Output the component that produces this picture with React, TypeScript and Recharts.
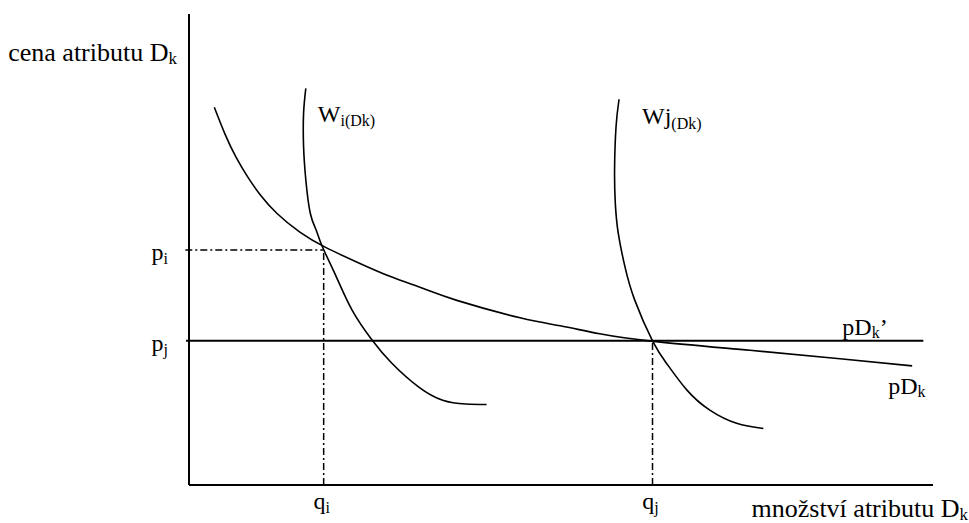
import React from 'react';
import {
  LineChart,
  Line,
  XAxis,
  YAxis,
  ReferenceLine,
  ReferenceDot,
} from 'recharts';

// equilibrium quantities / prices
const qi = 18.1;
const qj = 62.3;
const pi = 49.9;
const pj = 30.6;

const qTicks = [qi, qj];
const qSubs = ['i', 'j'];
const pTicks = [pj, pi];
const pSubs = ['j', 'i'];

// pD_k (hedonic price function)
const pdkX = [3.4, 4.84, 6.32, 7.93, 9.54, 11.8, 14.9, 18.3, 22.6, 27.0, 31.5, 36.0, 44.5, 49.9, 55.2, 62.4, 75.4, 87.5, 97.2];
const pdkY = [80.2, 74.5, 69.6, 65.3, 61.7, 57.7, 53.7, 50.5, 47.3, 44.3, 41.7, 39.2, 35.5, 33.8, 32.1, 30.5, 28.6, 26.8, 25.3];

// W_i(Dk) bid curve
const wiX = [15.7, 15.4, 15.4, 15.7, 16.3, 17.1, 17.9, 19.8, 21.9, 24.6, 27.3, 30.8, 34.1, 37.2, 40.0];
const wiY = [84.2, 78.9, 71.8, 64.8, 57.7, 54.1, 50.7, 44.2, 37.2, 30.8, 25.8, 20.9, 18.0, 17.2, 17.1];

// Wj(Dk) bid curve
const wjX = [57.8, 57.4, 57.2, 57.3, 57.7, 58.6, 59.9, 62.3, 64.2, 66.9, 70.0, 73.6, 77.2];
const wjY = [81.9, 76.1, 66.9, 59.8, 53.4, 46.3, 39.3, 30.6, 25.8, 20.2, 15.9, 13.1, 12.0];

// pD_k' flat line ends
const flatX = [-0.4, 98.7];

const zip = (xs: number[], ys: number[]) => xs.map((x, i) => ({ x, y: ys[i] }));

const pdkData = zip(pdkX, pdkY);
const wiData = zip(wiX, wiY);
const wjData = zip(wjX, wjY);

const FONT = 'Liberation Serif, Times New Roman, serif';
const FS = 24;
const TITLE_FS = 26;
const SUB = 16;
const DASH = '7 3 2 3';

const T = (props: any) => (
  <text fontFamily={FONT} fontSize={FS} fill="#000" {...props} />
);

const XTick = (props: any) => {
  const { x, payload } = props;
  const sub = qSubs[qTicks.indexOf(payload.value)];
  return (
    <T x={x - 2} y={509} textAnchor="middle">
      <tspan>q</tspan>
      <tspan fontSize={SUB} dy={4}>{sub}</tspan>
    </T>
  );
};

const YTick = (props: any) => {
  const { y, payload } = props;
  const sub = pSubs[pTicks.indexOf(payload.value)];
  return (
    <T x={168} y={y + 10} textAnchor="end">
      <tspan>p</tspan>
      <tspan fontSize={SUB} dy={4}>{sub}</tspan>
    </T>
  );
};

const label = (render: (cx: number, cy: number) => React.ReactElement) => (p: any) =>
  render(p.cx, p.cy);

export default function App() {
  return (
    <div style={{ position: 'absolute', left: 0, top: 0, width: 969, height: 523, background: '#fff' }}>
      <LineChart width={969} height={523} margin={{ top: 14, right: 36, bottom: 8, left: 129 }}>
        <XAxis
          type="number"
          dataKey="x"
          domain={[0, 100]}
          ticks={qTicks}
          tick={<XTick />}
          tickLine={false}
          axisLine={{ stroke: '#000', strokeWidth: 2 }}
          height={30}
          allowDataOverflow
        />
        <YAxis
          type="number"
          dataKey="y"
          domain={[0, 100]}
          ticks={pTicks}
          tick={<YTick />}
          tickLine={false}
          axisLine={{ stroke: '#000', strokeWidth: 2 }}
          width={60}
          allowDataOverflow
        />

        {/* dash-dot guides */}
        <ReferenceLine segment={[{ x: -0.5, y: pi }, { x: qi, y: pi }]} stroke="#000" strokeWidth={1.5} strokeDasharray={DASH} ifOverflow="visible" />
        <ReferenceLine segment={[{ x: qi, y: 0 }, { x: qi, y: pi }]} stroke="#000" strokeWidth={1.5} strokeDasharray={DASH} ifOverflow="visible" />
        <ReferenceLine segment={[{ x: qj, y: 0 }, { x: qj, y: pj }]} stroke="#000" strokeWidth={1.5} strokeDasharray={DASH} ifOverflow="visible" />

        {/* pD_k' */}
        <ReferenceLine segment={[{ x: flatX[0], y: pj }, { x: flatX[1], y: pj }]} stroke="#000" strokeWidth={2} ifOverflow="visible" />

        <Line data={pdkData} dataKey="y" type="natural" stroke="#000" strokeWidth={1.6} dot={false} activeDot={false} isAnimationActive={false} />
        <Line data={wiData} dataKey="y" type="natural" stroke="#000" strokeWidth={1.6} dot={false} activeDot={false} isAnimationActive={false} />
        <Line data={wjData} dataKey="y" type="natural" stroke="#000" strokeWidth={1.6} dot={false} activeDot={false} isAnimationActive={false} />

        {/* text labels, anchored to chart points */}
        <ReferenceDot
          x={0}
          y={100}
          r={0}
          ifOverflow="visible"
          shape={label((cx, cy) => (
            <T x={cx - 12} y={cy + 47} textAnchor="end" fontSize={TITLE_FS}>
              <tspan>cena atributu D</tspan>
              <tspan fontSize={SUB + 1} dy={3}>k</tspan>
            </T>
          ))}
        />
        <ReferenceDot
          x={100}
          y={0}
          r={0}
          ifOverflow="visible"
          shape={label((cx, cy) => (
            <T x={cx + 35} y={cy + 32} textAnchor="end" fontSize={TITLE_FS}>
              <tspan>množství atributu D</tspan>
              <tspan fontSize={SUB + 1} dy={3}>k</tspan>
            </T>
          ))}
        />
        <ReferenceDot
          x={wiX[0]}
          y={wiY[0]}
          r={0}
          ifOverflow="visible"
          shape={label((cx, cy) => (
            <T x={cx + 12} y={cy + 34}>
              <tspan>W</tspan>
              <tspan fontSize={SUB} dy={4}>i(Dk)</tspan>
            </T>
          ))}
        />
        <ReferenceDot
          x={wjX[0]}
          y={wjY[0]}
          r={0}
          ifOverflow="visible"
          shape={label((cx, cy) => (
            <T x={cx + 23} y={cy + 25}>
              <tspan>Wj</tspan>
              <tspan fontSize={SUB} dy={5}>(Dk)</tspan>
            </T>
          ))}
        />
        <ReferenceDot
          x={flatX[1]}
          y={pj}
          r={0}
          ifOverflow="visible"
          shape={label((cx, cy) => (
            <T x={cx - 81} y={cy - 6}>
              <tspan>pD</tspan>
              <tspan fontSize={SUB} dy={3}>k</tspan>
              <tspan dy={-3}>’</tspan>
            </T>
          ))}
        />
        <ReferenceDot
          x={pdkX[pdkX.length - 1]}
          y={pdkY[pdkY.length - 1]}
          r={0}
          ifOverflow="visible"
          shape={label((cx, cy) => (
            <T x={cx - 24} y={cy + 28}>
              <tspan>pD</tspan>
              <tspan fontSize={SUB} dy={3}>k</tspan>
            </T>
          ))}
        />
      </LineChart>
    </div>
  );
}
